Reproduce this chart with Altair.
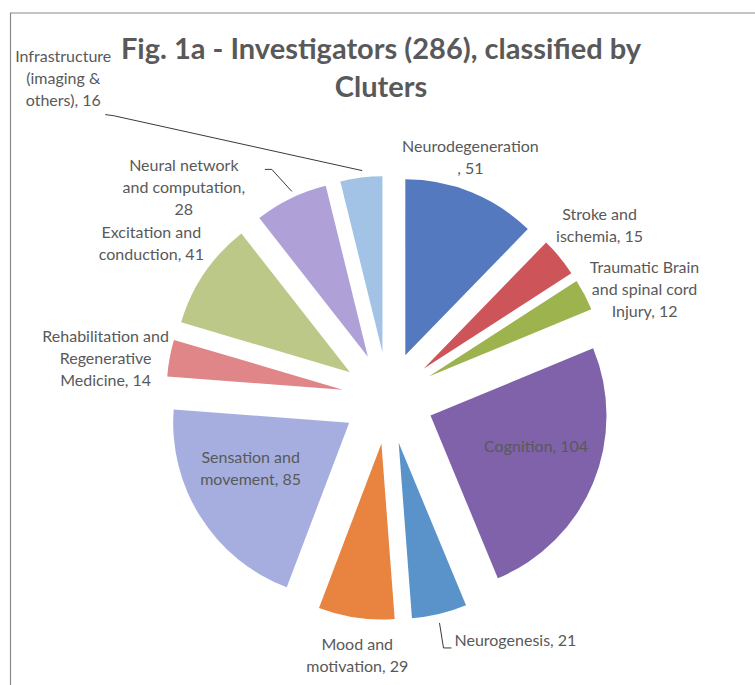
import altair as alt
import pandas as pd

# ---------------- data ----------------
categories = [
    "Neurodegeneration", "Stroke and ischemia", "Traumatic Brain and spinal cord Injury",
    "Cognition", "Neurogenesis", "Mood and motivation", "Sensation and movement",
    "Rehabilitation and Regenerative Medicine", "Excitation and conduction",
    "Neural network and computation", "Infrastructure (imaging & others)",
]
values = [51, 15, 12, 104, 21, 29, 85, 14, 41, 28, 16]
label_texts = [
    "Neurodegeneration\n, 51", "Stroke and\nischemia, 15", "Traumatic Brain\nand spinal cord\nInjury, 12",
    "Cognition, 104", "Neurogenesis, 21", "Mood and\nmotivation, 29", "Sensation and\nmovement, 85",
    "Rehabilitation and\nRegenerative\nMedicine, 14", "Excitation and\nconduction, 41",
    "Neural network\nand computation,\n28", "Infrastructure\n(imaging &\nothers), 16",
]
title_lines = ["Fig. 1a - Investigators (286), classified by", "Cluters"]

# ---------------- style / layout ----------------
colors = ["#5479BF", "#CD5559", "#9CB34E", "#7F62AA", "#5A93C9", "#E8843F",
          "#A6AEDF", "#E08588", "#BCC887", "#AFA0D8", "#A2C2E6"]
W, H = 755, 685
CX, CY = 388, 398      # pie centre (px)
R = 176                # slice radius
D = 46                 # explosion distance
TEXT = "#595959"
FONT = "Lato"
LH = 22                # label line height

# label nudges (block centre) relative to the outer mid-arc point of each slice
label_nudge = {
    "Neurodegeneration": (-1, -34), "Stroke and ischemia": (40, -31),
    "Traumatic Brain and spinal cord Injury": (60, -5), "Cognition": (-57, -36),
    "Neurogenesis": (15, 27), "Mood and motivation": (1, 38),
    "Sensation and movement": (50, -48), "Rehabilitation and Regenerative Medicine": (-64, 1),
    "Excitation and conduction": (-53, -29), "Neural network and computation": (-107, -10),
    "Infrastructure (imaging & others)": (-298, -99),
}
left_aligned = {"Neurogenesis"}
# leader lines: start, elbow, end nudges relative to outer mid-arc point
leaders = {
    "Infrastructure (imaging & others)": [(1, -7), (-248, -62), (-256, -63)],
    "Neural network and computation": [(1, -7), (-19, -29), (-26, -29)],
    "Neurogenesis": [(0, 9), (4, 34), (12, 34)],
}

rows = []
for i, (c, v, t) in enumerate(zip(categories, values, label_texts)):
    ldx, ldy = label_nudge[c]
    ld = leaders.get(c, [(0, 0), (0, 0), (0, 0)])
    rows.append(dict(cat=c, value=v, label=t, idx=i, ldx=ldx, ldy=ldy,
                     nl=t.count("\n"),
                     align="left" if c in left_aligned else "center",
                     leader=c in leaders,
                     s_dx=ld[0][0], s_dy=ld[0][1], e_dx=ld[1][0], e_dy=ld[1][1],
                     t_dx=ld[2][0], t_dy=ld[2][1]))
df = pd.DataFrame(rows)

xs = alt.Scale(domain=[0, W], range=[0, W], nice=False, zero=False)
ys = alt.Scale(domain=[0, H], range=[0, H], nice=False, zero=False)

base = (
    alt.Chart(df)
    .transform_window(cum="sum(value)", sort=[alt.SortField("idx")], frame=[None, 0])
    .transform_joinaggregate(total="sum(value)")
    .transform_calculate(f0="(datum.cum - datum.value) / datum.total",
                         f1="datum.cum / datum.total")
    .transform_calculate(mid="PI * (datum.f0 + datum.f1)")
    .transform_calculate(
        cx=f"{CX} + {D} * sin(datum.mid)",
        cy=f"{CY} - {D} * cos(datum.mid)",
        ox=f"{CX} + {D + R} * sin(datum.mid)",
        oy=f"{CY} - {D + R} * cos(datum.mid)",
    )
    .transform_calculate(
        lx="datum.ox + datum.ldx",
        ly=f"datum.oy + datum.ldy - datum.nl * {LH} / 2",
        sx="datum.ox + datum.s_dx", sy="datum.oy + datum.s_dy",
        ex="datum.ox + datum.e_dx", ey="datum.oy + datum.e_dy",
        tx="datum.ox + datum.t_dx", ty="datum.oy + datum.t_dy",
    )
)

arcs = base.mark_arc(radius=R).encode(
    theta=alt.Theta("f0:Q", scale=alt.Scale(domain=[0, 1], range=[0, 6.283185307179586])),
    theta2="f1:Q",
    x=alt.X("cx:Q", scale=xs, axis=None),
    y=alt.Y("cy:Q", scale=ys, axis=None),
    color=alt.Color("cat:N", scale=alt.Scale(domain=categories, range=colors), legend=None),
)

lead1 = base.transform_filter("datum.leader").mark_rule(color="#3a3a3a", strokeWidth=1).encode(
    x=alt.X("sx:Q", scale=xs, axis=None), y=alt.Y("sy:Q", scale=ys, axis=None),
    x2="ex:Q", y2="ey:Q")
lead2 = base.transform_filter("datum.leader").mark_rule(color="#3a3a3a", strokeWidth=1).encode(
    x=alt.X("ex:Q", scale=xs, axis=None), y=alt.Y("ey:Q", scale=ys, axis=None),
    x2="tx:Q", y2="ty:Q")

txt_kw = dict(baseline="middle", lineBreak="\n", font=FONT, fontSize=16,
              color=TEXT, lineHeight=LH)
labels_c = base.transform_filter("datum.align == 'center'").mark_text(align="center", **txt_kw).encode(
    x=alt.X("lx:Q", scale=xs, axis=None), y=alt.Y("ly:Q", scale=ys, axis=None), text="label:N")
labels_l = base.transform_filter("datum.align == 'left'").mark_text(align="left", **txt_kw).encode(
    x=alt.X("lx:Q", scale=xs, axis=None), y=alt.Y("ly:Q", scale=ys, axis=None), text="label:N")

title = alt.Chart(pd.DataFrame({"t": ["\n".join(title_lines)]})).mark_text(
    align="center", baseline="middle", lineBreak="\n", font=FONT, fontSize=29,
    fontWeight="bold", color=TEXT, lineHeight=38,
).encode(x=alt.value(381), y=alt.value(50), text="t:N")

border_top = alt.Chart(pd.DataFrame({"a": [0]})).mark_rule(color="#8a8a8a", strokeWidth=1.2).encode(
    x=alt.value(10), x2=alt.value(W), y=alt.value(13))
border_left = alt.Chart(pd.DataFrame({"a": [0]})).mark_rule(color="#8a8a8a", strokeWidth=1.2).encode(
    x=alt.value(10.5), y=alt.value(13), y2=alt.value(H))

chart = alt.layer(
    border_top, border_left, arcs, lead1, lead2, labels_c, labels_l, title
).properties(
    width=W, height=H, padding=0, autosize=alt.AutoSizeParams(type="none"), background="white"
).configure_view(stroke=None)

chart.save("out.html", embed_options={"renderer": "svg", "actions": False})
